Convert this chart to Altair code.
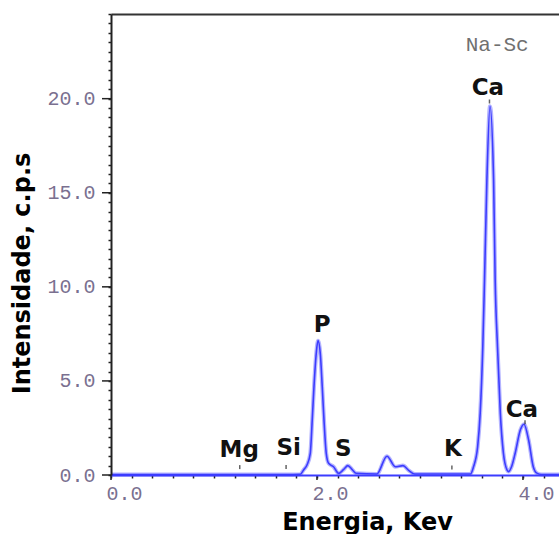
import altair as alt
import pandas as pd

# ---- spectrum ----
energy = [0.00, 1.00, 1.70, 1.838, 1.870, 1.903, 1.935, 1.954, 1.971, 1.993, 2.010,
          2.032, 2.051, 2.068, 2.090, 2.113, 2.161, 2.210, 2.26, 2.300, 2.34, 2.380,
          2.580, 2.680, 2.760, 2.835, 2.89, 2.950, 3.490, 3.520, 3.560, 3.585, 3.610,
          3.627, 3.650, 3.680, 3.715, 3.730, 3.753, 3.780, 3.810, 3.845, 3.860, 3.890,
          3.925, 3.975, 4.010, 4.055, 4.100, 4.135, 4.180, 4.350]
counts = [0.02, 0.02, 0.02, 0.04, 0.27, 0.53, 1.15, 2.93, 4.70, 6.47, 7.14,
          6.47, 4.70, 2.93, 1.15, 0.62, 0.44, 0.09, 0.30, 0.50, 0.30, 0.09,
          0.05, 1.00, 0.44, 0.50, 0.25, 0.05, 0.05, 0.44, 1.50, 3.30, 6.80,
          10.40, 15.70, 19.60, 15.70, 10.40, 6.80, 3.30, 1.17, 0.27, 0.18, 0.45,
          1.17, 2.40, 2.70, 1.86, 0.44, 0.10, 0.03, 0.03]

# ---- element labels ----
label_text = ["Mg", "Si", "P", "S", "K", "Ca", "Ca"]
label_x = [1.245, 1.725, 2.05, 2.255, 3.32, 3.66, 3.99]
label_y = [1.33, 1.46, 7.98, 1.36, 1.36, 20.59, 3.48]

# ---- small line markers under labels ----
marker_x = [1.25, 1.70, 3.31, 3.675, 4.02]
marker_y = [0.42, 0.42, 0.40, 19.85, 2.80]

# ---- corner note ----
note_text = ["Na-Sc"]
note_x = [3.75]
note_y = [22.87]

# ---- axis ticks ----
x_minor = [round(i * 0.2, 1) for i in range(0, 22)]
x_major = [0.0, 2.0, 4.0]
y_minor = [i * 0.5 for i in range(0, 50)]
y_major = [0.0, 5.0, 10.0, 15.0, 20.0]
x_domain = [0, 4.35]
y_domain = [0, 24.5]

spec = pd.DataFrame({"e": energy, "c": counts})
labels = pd.DataFrame({"e": label_x, "c": label_y, "t": label_text})
markers = pd.DataFrame({"e": marker_x, "c": marker_y})
note = pd.DataFrame({"e": note_x, "c": note_y, "t": note_text})
xmaj = pd.DataFrame({"e": x_major})
ymaj = pd.DataFrame({"c": y_major})

xscale = alt.Scale(domain=x_domain, nice=False, zero=False)
yscale = alt.Scale(domain=y_domain, nice=False)

x_is_major = "abs(datum.value - round(datum.value / 2) * 2) < 0.01"
xaxis = alt.Axis(
    values=x_minor, ticks=True,
    labelExpr=f"{x_is_major} ? format(datum.value, '.1f') : ''",
    tickSize=3, tickColor="#222222", tickWidth=1.5,
    domainColor="#3c3cff", domainWidth=2,
    labelFont="Liberation Mono", labelFontSize=20, labelColor="#7a7090",
    labelAlign="left", labelOffset=-5, labelPadding=5,
    labelOverlap=False, labelFlush=False, grid=False, zindex=1,
    titleFont="DejaVu Sans", titleFontWeight="bold", titleFontSize=24,
    titleColor="black", titleX=256, titleY=47, titleBaseline="middle",
    titleAlign="center",
)

yaxis = alt.Axis(
    values=y_minor, ticks=True,
    labelExpr="datum.value % 5 === 0 ? format(datum.value, '.1f') : ''",
    tickSize=3, tickColor="#222222", tickWidth=1.5,
    domainColor="#222222", domainWidth=2,
    labelFont="Liberation Mono", labelFontSize=20, labelColor="#7a7090",
    labelPadding=13, labelOverlap=False, labelFlush=False, grid=False, zindex=1,
    titleFont="DejaVu Sans", titleFontWeight="bold", titleFontSize=24,
    titleColor="black", titleX=-89, titleY=259, titleBaseline="middle",
    titleAngle=270, titleAlign="center",
)

X0 = alt.X("e:Q", scale=xscale, axis=None)
Y0 = alt.Y("c:Q", scale=yscale, axis=None)

halo = alt.Chart(spec).mark_line(color="#b4b4ff", strokeWidth=4, interpolate="monotone").encode(
    x=X0, y=Y0)
core = alt.Chart(spec).mark_line(color="#3c3cff", strokeWidth=1.6, interpolate="monotone").encode(
    x=alt.X("e:Q", scale=xscale, axis=xaxis, title="Energia, Kev"),
    y=alt.Y("c:Q", scale=yscale, axis=yaxis, title="Intensidade, c.p.s"))
top = alt.Chart(spec).mark_line(opacity=0).encode(
    x=alt.X("e:Q", scale=xscale, axis=alt.Axis(orient="top", labels=False, ticks=False,
                                                domainColor="#333333", domainWidth=2,
                                                grid=False, title=None)),
    y=Y0)
# longer major ticks on both axes
ymajor_ticks = alt.Chart(ymaj).mark_rule(color="#222222", strokeWidth=1.5).encode(
    y=Y0, x=alt.value(-9), x2=alt.value(0))
xmajor_ticks = alt.Chart(xmaj).mark_rule(color="#222222", strokeWidth=1.5).encode(
    x=X0, y=alt.value(461), y2=alt.value(466))
ticks = alt.Chart(markers).mark_tick(orient="vertical", size=4, thickness=1.5, color="#222222").encode(
    x=X0, y=Y0)
text = alt.Chart(labels).mark_text(font="DejaVu Sans", fontWeight="bold", fontSize=23,
                                   color="#111111", baseline="middle", align="center").encode(
    x=X0, y=Y0, text="t:N")
note_layer = alt.Chart(note).mark_text(font="Liberation Mono", fontSize=21, color="#707070",
                                       baseline="middle", align="center").encode(
    x=X0, y=Y0, text="t:N")

chart = alt.layer(top, halo, core, ymajor_ticks, xmajor_ticks, ticks, text, note_layer).resolve_axis(
    x="independent", y="independent"
).properties(
    width=448, height=461,
    padding={"left": 111, "top": 14, "right": 0, "bottom": 59},
    autosize=alt.AutoSizeParams(type="none"),
    background="white",
).configure_view(stroke=None)

chart.save("out.html", embed_options={"renderer": "svg", "actions": False})
